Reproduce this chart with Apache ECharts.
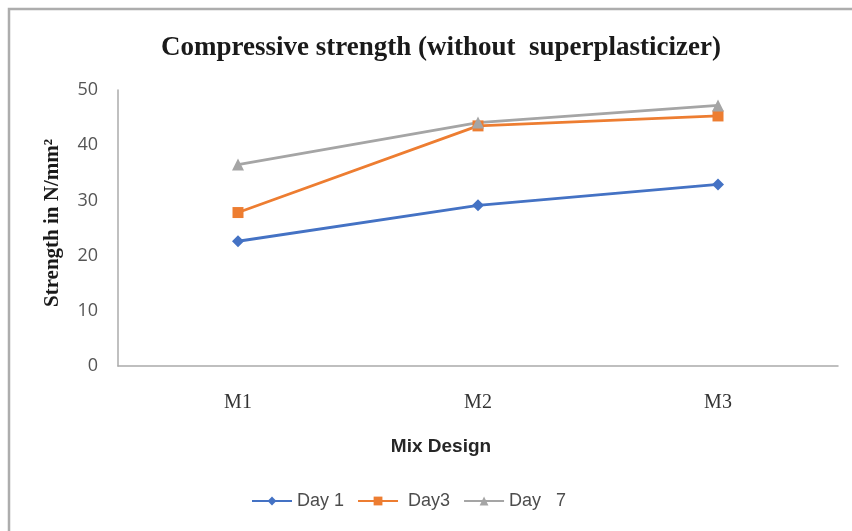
<!DOCTYPE html>
<html>
<head>
<meta charset="utf-8">
<script src="https://cdn.jsdelivr.net/npm/echarts@6/dist/echarts.min.js"></script>
<style>
html,body{margin:0;padding:0;background:#fff;}
#chart{width:852px;height:531px;}
</style>
</head>
<body>
<div id="chart"></div>
<script>
const categories = ['M1', 'M2', 'M3'];
const seriesNames = ['Day 1', 'Day3', 'Day   7'];
const day1 = [22.6, 29.1, 32.9];
const day3 = [27.8, 43.5, 45.3];
const day7 = [36.5, 44.1, 47.2];
const yTicks = [0, 10, 20, 30, 40, 50];

const chart = echarts.init(document.getElementById('chart'), null, {renderer: 'canvas'});
const sans = '"Open Sans", "Liberation Sans", "DejaVu Sans", sans-serif';
const sansB = '"Liberation Sans", "DejaVu Sans", sans-serif';
const serif = '"Liberation Serif", "DejaVu Serif", serif';

function mkSeries(name, data, color, symbol, size) {
  return {
    name: name, type: 'line', data: data,
    symbol: symbol, symbolSize: size, showSymbol: true,
    lineStyle: {color: color, width: 2.8},
    itemStyle: {color: color},
    z: 3
  };
}

chart.setOption({
  animation: false,
  backgroundColor: '#fff',
  title: {
    text: 'Compressive strength (without  superplasticizer)',
    left: 436, top: 30, textAlign: 'center',
    textStyle: {fontFamily: serif, fontWeight: 'bold', fontSize: 27, color: '#1a1a1a'}
  },
  grid: {left: 118, top: 90, right: 14, bottom: 165, containLabel: false},
  xAxis: {
    type: 'category', data: categories, boundaryGap: true,
    axisLine: {show: true, lineStyle: {color: '#ababab', width: 1.5}},
    axisTick: {show: false},
    axisLabel: {margin: 27, fontFamily: serif, fontSize: 20, color: '#333'},
    splitLine: {show: false}
  },
  yAxis: {
    type: 'value', min: yTicks[0], max: yTicks[yTicks.length - 1], interval: 10,
    axisLine: {show: true, lineStyle: {color: '#ababab', width: 1.5}},
    axisTick: {show: false},
    axisLabel: {margin: 20, fontFamily: sans, fontSize: 18, color: '#555'},
    splitLine: {show: false},
    name: 'Strength in N/mm²', nameLocation: 'middle', nameGap: 55, nameRotate: 90,
    nameTextStyle: {fontFamily: serif, fontWeight: 'bold', fontSize: 21, color: '#1a1a1a', padding: [0, 0, 0, 10]}
  },
  legend: {
    data: seriesNames, left: 246, top: 487,
    itemWidth: 40, itemHeight: 11, itemGap: 13,
    formatter: function (n) { return n === 'Day3' ? ' Day3' : n; },
    textStyle: {fontFamily: sansB, fontSize: 18, color: '#4d4d4d'}
  },
  graphic: [
    {type: 'rect', shape: {x: 9, y: 9, width: 900, height: 600},
     style: {fill: 'none', stroke: '#adadad', lineWidth: 2.5}, silent: true},
    {type: 'text', x: 441, y: 447,
     style: {text: 'Mix Design', font: 'bold 19px ' + sansB, fill: '#262626', align: 'center', verticalAlign: 'middle'}}
  ],
  series: [
    mkSeries(seriesNames[0], day1, '#4472C4', 'diamond', 12),
    mkSeries(seriesNames[1], day3, '#ED7D31', 'rect', 11),
    mkSeries(seriesNames[2], day7, '#A5A5A5', 'triangle', 12)
  ]
});
</script>
</body>
</html>
